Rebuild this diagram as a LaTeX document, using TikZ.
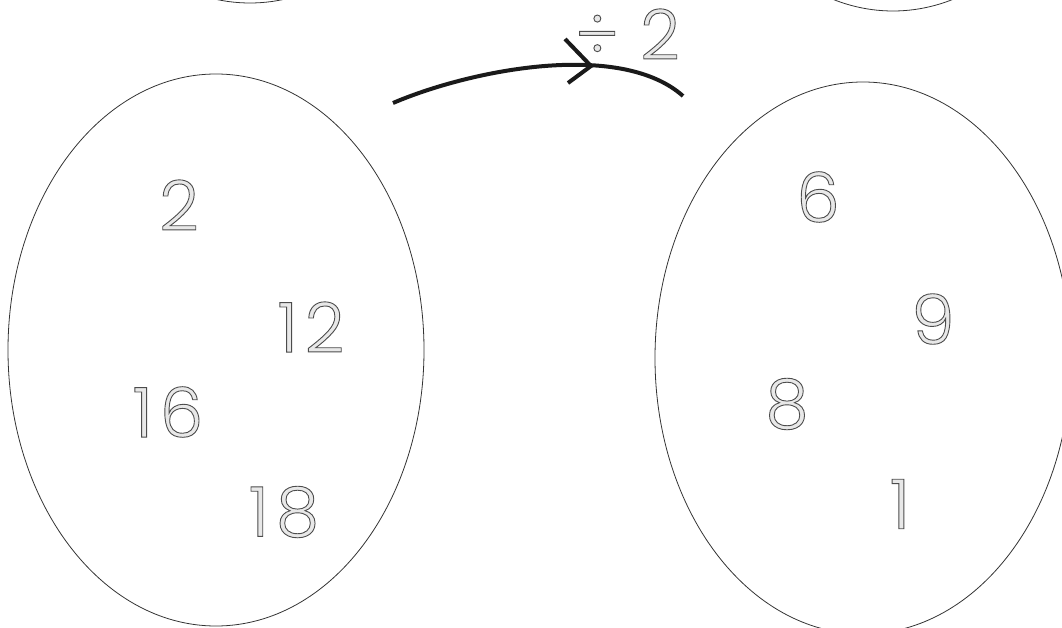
\documentclass[tikz,border=0pt]{standalone}
\usepackage{fontspec}
\newfontfamily\digitfont{Poppins Light}
\usetikzlibrary{shapes.geometric}
\definecolor{ink}{HTML}{333333}
\definecolor{digitfill}{HTML}{E8E8E8}
\definecolor{arrowink}{HTML}{1A1A1A}
\newcommand\outlined[1]{{\color{digitfill}\special{pdf:literal direct 0.3 G 0.9 w 2 Tr}#1\special{pdf:literal direct 0 Tr}}}
\newcommand\dgap{\kern7pt}
\tikzset{
  setellipse/.style={draw=ink, line width=0.8pt, ellipse, inner sep=0pt,
    minimum width=416pt, minimum height=552pt},
  num/.style={inner sep=0pt, font=\digitfont\fontsize{69}{69}\selectfont},
  arrowline/.style={draw=arrowink, line width=4pt}
}
\begin{document}
\begin{tikzpicture}[x=1pt, y=-1pt]
\useasboundingbox (0,0) rectangle (1062,628);
\clip (0,0) rectangle (1062,628);
% sets
\node[setellipse] (setA) at (216,350) {};
\node[setellipse] (setB) at (863,358) {};
\node[setellipse] (setTL) at (250,-273) {};
\node[setellipse] (setTR) at (893,-265) {};
% numbers in set A
\node[num] (a2)  at (179,205) {\outlined{2}};
\node[num] (a12) at (311,327) {\outlined{1\dgap 2}};
\node[num] (a16) at (168,412) {\outlined{1\dgap 6}};
\node[num] (a18) at (284,512) {\outlined{1\dgap 8}};
% numbers in set B
\node[num] (b6) at (818,197) {\outlined{6}};
\node[num] (b9) at (933,319) {\outlined{9}};
\node[num] (b8) at (787,404) {\outlined{8}};
\node[num] (b1) at (900,504) {\outlined{1}};
% arrow
\coordinate (arrStart) at (393,103);
\coordinate (arrEnd) at (683,96);
\draw[arrowline] (arrStart) .. controls (470,70) and (620,40) .. (arrEnd);
\coordinate (tip) at (591,66);
\coordinate (armUp) at (565,39);
\coordinate (armDown) at (568,83);
\draw[arrowline] (armUp) -- (tip) -- (armDown);
% label
\node[num] (divsign) at (597,37) {\outlined{÷}};
\node[num] (divtwo) at (660,34) {\outlined{2}};
\end{tikzpicture}
\end{document}
